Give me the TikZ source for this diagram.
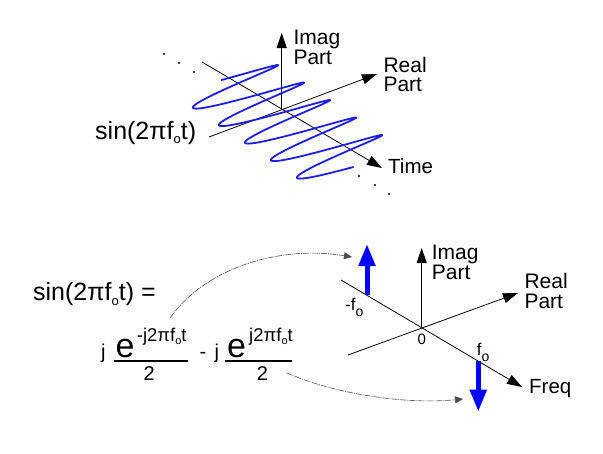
\documentclass[tikz,border=0pt]{standalone}
\usepackage{fontspec}
\setmainfont{Liberation Sans}
\usetikzlibrary{arrows.meta}
\newcommand\myfo[2]{f\raisebox{-#2}{\fontsize{#1}{#1}\selectfont o}}
\begin{document}
\begin{tikzpicture}[x=1pt,y=-1pt,
  ax/.style={line width=0.8pt,-{Triangle[width=10pt,length=15pt]}},
  lbl/.style={anchor=north west,inner sep=0pt,align=left,font=\fontsize{21}{19.8}\selectfont},
  bluearr/.style={draw={rgb,255:red,0;green,0;blue,255},line width=5pt,-{Triangle[width=16pt,length=22pt]}},
  wave/.style={draw={rgb,255:red,30;green,30;blue,230},line width=1.8pt,line join=round},
  curvy/.style={draw=black!70,line width=0.6pt,dash pattern=on 6pt off 1pt on 1pt off 1pt,-{Triangle[width=7pt,length=8pt]}},
  txt/.style={anchor=base west,inner sep=0pt},
  dot/.style={fill=black}]
\useasboundingbox (0,0) rectangle (603,453);

% ---------- top: time signal ----------
\coordinate (O1) at (281.7,109.3);
\coordinate (I1) at (281.7,33);
\coordinate (R1s) at (209,137);
\coordinate (R1e) at (377,74);
\coordinate (T1s) at (202,62);
\coordinate (T1e) at (382,168);
\draw[ax] (O1) -- (I1);
\draw[ax] (R1s) -- (R1e);
\draw[ax] (T1s) -- (T1e);
\draw[wave] plot[domain=-1.6:29.87,samples=400,smooth,variable=\t]
  ({229+4.14*\t+49*cos(\t r)},{82.1+2.785*\t-17.1*cos(\t r)-2*sin(\t r)});

\node[lbl] (imag1) at (293.3,30) {Imag\\Part};
\node[lbl] (real1) at (383.3,56.7) {Real\\Part};
\node[txt,font=\fontsize{20.5}{22}\selectfont] (time1) at (388,173.5) {Time};
\node[txt,font=\fontsize{25}{27}\selectfont] (sin1) at (95,139) {sin(2π\myfo{13}{4pt}t)};

\fill[dot] (164,54) circle (1.1) (179,63) circle (1.1) (194,72) circle (1.1);
\fill[dot] (359,176) circle (1.1) (375,185) circle (1.1) (389,194) circle (1.1);

% ---------- bottom: spectrum ----------
\coordinate (O2) at (421.7,327.7);
\coordinate (I2) at (421.7,248);
\coordinate (R2s) at (348,355);
\coordinate (R2e) at (518,293);
\coordinate (F2s) at (341,280);
\coordinate (F2e) at (522,387);
\draw[ax] (O2) -- (I2);
\draw[ax] (R2s) -- (R2e);
\draw[ax] (F2s) -- (F2e);

\coordinate (nb) at (367,295.4);
\coordinate (nt) at (367,244);
\coordinate (pb) at (478.3,361.2);
\coordinate (pt) at (478.3,411.7);
\draw[bluearr] (nb) -- (nt);
\draw[bluearr] (pb) -- (pt);

\node[lbl] (imag2) at (431.7,245) {Imag\\Part};
\node[lbl] (real2) at (524.3,273.3) {Real\\Part};
\node[txt,font=\fontsize{20.5}{22}\selectfont] (freq2) at (529,393.3) {Freq};
\node[txt,font=\fontsize{15}{17}\selectfont] (zero) at (417.3,344) {0};
\node[txt,font=\fontsize{17}{20}\selectfont] (nf) at (345,310) {-\myfo{14}{6.5pt}};
\node[txt,font=\fontsize{17}{20}\selectfont] (pf) at (476.7,355) {\myfo{14}{6.5pt}};

% ---------- formula ----------
\node[txt,font=\fontsize{25}{27}\selectfont] (sin2) at (33,300.5) {sin(2π\myfo{13}{5pt}t) =};

\node[txt,font=\fontsize{20}{22}\selectfont] (j1) at (101,358) {j};
\node[anchor=base,inner sep=0pt,font=\fontsize{34}{36}\selectfont] (e1) at (125,357.5) {e};
\node[txt,font=\fontsize{18.5}{20}\selectfont] (s1) at (136.7,341.7) {-j2π\myfo{11}{3pt}t};
\coordinate (b1s) at (114,361);
\coordinate (b1e) at (188.3,361);
\draw[line width=2pt] (b1s) -- (b1e);
\node[anchor=base,inner sep=0pt,font=\fontsize{20}{22}\selectfont] (d1) at (149.2,380.5) {2};

\node[txt,font=\fontsize{20}{22}\selectfont] (minus) at (199.5,358) {-};
\node[txt,font=\fontsize{20}{22}\selectfont] (j2) at (214.5,358) {j};
\node[anchor=base,inner sep=0pt,font=\fontsize{34}{36}\selectfont] (e2) at (236.7,357.5) {e};
\node[txt,font=\fontsize{18.5}{20}\selectfont] (s2) at (249,341.7) {j2π\myfo{11}{3pt}t};
\coordinate (b2s) at (225,361);
\coordinate (b2e) at (291.7,361);
\draw[line width=2pt] (b2s) -- (b2e);
\node[anchor=base,inner sep=0pt,font=\fontsize{20}{22}\selectfont] (d2) at (262.5,380.5) {2};

% ---------- dotted connectors ----------
\coordinate (c1s) at (170,318);
\coordinate (c1e) at (352,257);
\coordinate (c2s) at (287,373);
\coordinate (c2e) at (463,399);
\draw[curvy] (c1s) .. controls (205,268) and (280,245) .. (c1e);
\draw[curvy] (c2s) .. controls (330,392) and (400,405) .. (c2e);
\end{tikzpicture}
\end{document}
